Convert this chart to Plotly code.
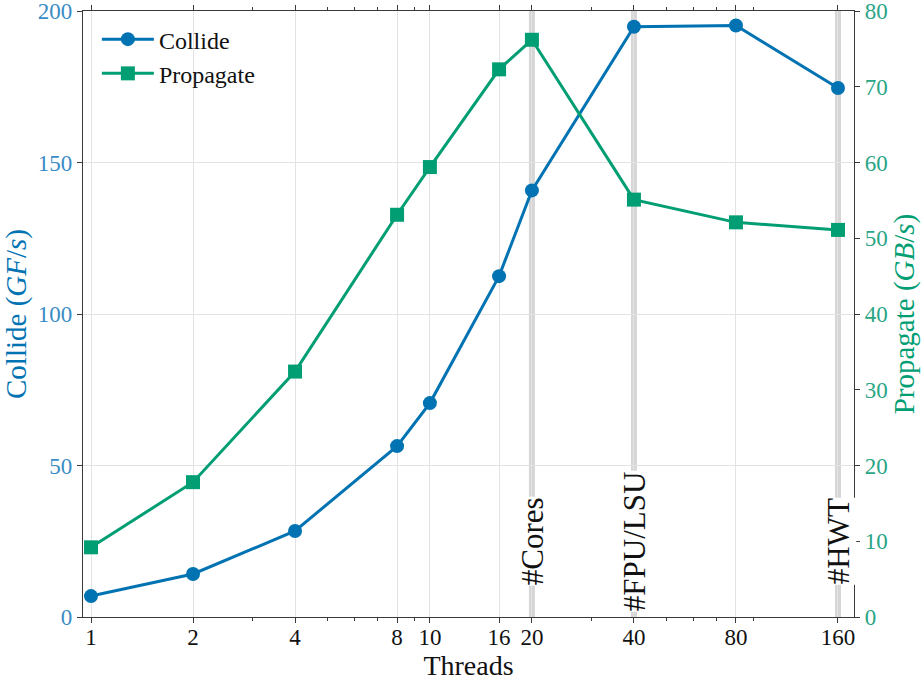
import plotly.graph_objects as go
import math

threads = [1, 2, 4, 8, 10, 16, 20, 40, 80, 160]
collide = [6.9, 14.2, 28.4, 56.4, 70.6, 112.5, 140.8, 194.8, 195.2, 174.6]
propagate = [9.2, 17.8, 32.4, 53.1, 59.4, 72.3, 76.2, 55.1, 52.1, 51.1]
x_ticks = [1, 2, 4, 8, 10, 16, 20, 40, 80, 160]
x_minor = [3, 5, 6, 7, 9, 30, 50, 60, 70, 90]
markers_x = [20, 40, 160]
markers_text = ["#Cores", "#FPU/LSU", "#HWT"]

BLUE = "#0173B2"
GREEN = "#029E73"
FONT = "Liberation Serif"
AX = "#3a3a3a"

fig = go.Figure()
fig.add_trace(go.Scatter(x=threads, y=collide, name="Collide", mode="lines+markers",
                         line=dict(color=BLUE, width=3), marker=dict(symbol="circle", size=14, color=BLUE),
                         yaxis="y"))
fig.add_trace(go.Scatter(x=threads, y=propagate, name="Propagate", mode="lines+markers",
                         line=dict(color=GREEN, width=3), marker=dict(symbol="square", size=14, color=GREEN),
                         yaxis="y2"))

for xv, txt in zip(markers_x, markers_text):
    fig.add_shape(type="line", xref="x", yref="paper", x0=xv, x1=xv, y0=0, y1=1,
                  line=dict(color="#d6d6d6", width=6), layer="between")
    fig.add_annotation(x=math.log10(xv), y=25, xref="x", yref="y", text=txt, textangle=-90,
                       showarrow=False, bgcolor="white", font=dict(family=FONT, size=31, color="#111111"),
                       borderpad=0)

fig.update_layout(
    width=924, height=681,
    margin=dict(l=83, r=70, t=11, b=64, autoexpand=False),
    plot_bgcolor="white", paper_bgcolor="white",
    font=dict(family=FONT, size=23, color="#111111"),
    showlegend=True,
    legend=dict(x=0.018, y=0.99, xanchor="left", yanchor="top", bgcolor="rgba(255,255,255,0)",
                font=dict(family=FONT, size=24, color="#111111"), itemwidth=52, tracegroupgap=0),
    xaxis=dict(type="log", range=[-0.0236, 2.2514], tickvals=x_ticks, ticktext=[str(v) for v in x_ticks],
               ticks="outside", ticklen=5, tickcolor=AX, showline=True, linecolor=AX, linewidth=1.3,
               mirror="ticks", showgrid=True, gridcolor="#e3e3e3", gridwidth=1, zeroline=False,
               automargin=False, ticklabeloverflow="allow", ticklabelstandoff=-6,
               tickfont=dict(family=FONT, size=23, color="#111111"),
               minor=dict(tickvals=x_minor, ticks="outside", ticklen=3, tickcolor=AX, showgrid=False),
               title=dict(text="Threads", font=dict(family=FONT, size=28, color="#111111"), standoff=0)),
    yaxis=dict(range=[0, 200], tickvals=[0, 50, 100, 150, 200], ticks="outside", ticklen=5, tickcolor=AX,
               showline=True, linecolor=AX, linewidth=1.3, showgrid=True, gridcolor="#e3e3e3", zeroline=False,
               automargin=False, ticklabeloverflow="allow",
               tickfont=dict(family=FONT, size=23, color="#3a8cc4"),
               title=dict(text="Collide (<i>GF</i>/<i>s</i>)", font=dict(family=FONT, size=29, color=BLUE), standoff=6)),
    yaxis2=dict(range=[0, 80], tickvals=list(range(0, 81, 10)), overlaying="y", side="right", ticks="outside",
                ticklen=5, tickcolor=AX, showline=True, linecolor=AX, linewidth=1.3, showgrid=False, zeroline=False,
                automargin=False, ticklabeloverflow="allow",
                tickfont=dict(family=FONT, size=23, color="#2aa585"),
                title=dict(text="Propagate (<i>GB</i>/<i>s</i>)", font=dict(family=FONT, size=29, color=GREEN), standoff=6)),
)

fig.write_html("out.html", config={"displayModeBar": False},
               post_script="document.body.style.margin='0';document.body.style.overflow='hidden';")
